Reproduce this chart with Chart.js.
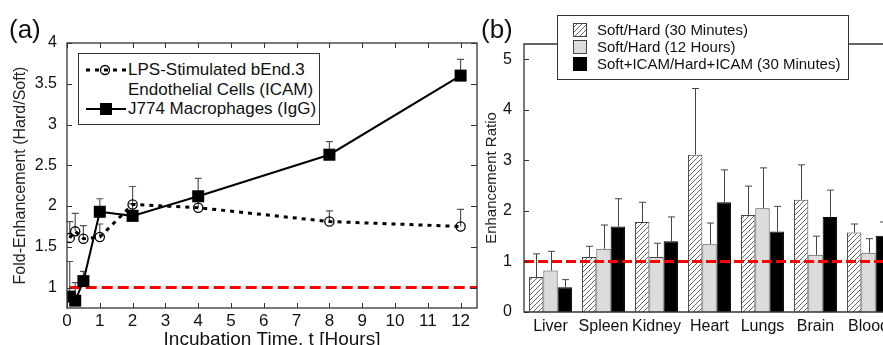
<!DOCTYPE html>
<html><head><meta charset="utf-8">
<script src="https://cdn.jsdelivr.net/npm/chart.js@4"></script>
<style>
html,body{margin:0;padding:0;width:883px;height:345px;overflow:hidden;background:#fff;font-family:"Liberation Sans",Arial,sans-serif;color:#111;}
#wrapA{position:absolute;left:0;top:0;width:490px;height:360px;}
#wrapB{position:absolute;left:470px;top:0;width:430px;height:345px;}
.panel{position:absolute;font-size:26px;line-height:26px;color:#111;}
.box{position:absolute;background:#fff;border:1px solid #333;box-sizing:border-box;}
.lt{position:absolute;white-space:nowrap;line-height:18px;}
.sw{position:absolute;}
</style></head>
<body>
<div id="wrapA"><canvas id="ca" width="490" height="360"></canvas></div>
<div id="wrapB"><canvas id="cb" width="430" height="345"></canvas></div>
<div class="panel" style="left:9px;top:16px;">(a)</div>
<div class="panel" style="left:481px;top:16px;">(b)</div>

<div class="box" style="left:78px;top:53px;width:242px;height:72px;"></div>
<svg class="sw" style="left:84px;top:62px;" width="46" height="16">
  <line x1="2" y1="8" x2="42" y2="8" stroke="#000" stroke-width="3" stroke-dasharray="4,5"/>
  <circle cx="21" cy="8" r="4.5" fill="none" stroke="#000" stroke-width="1.3"/>
</svg>
<svg class="sw" style="left:84px;top:101px;" width="46" height="16">
  <line x1="2" y1="8" x2="42" y2="8" stroke="#000" stroke-width="2"/>
  <rect x="16" y="2" width="12" height="12" fill="#000"/>
</svg>
<div class="lt" style="left:128px;top:61px;font-size:17px;">LPS-Stimulated bEnd.3</div>
<div class="lt" style="left:128px;top:81px;font-size:17px;">Endothelial Cells (ICAM)</div>
<div class="lt" style="left:128px;top:100px;font-size:17px;">J774 Macrophages (IgG)</div>

<div class="box" style="left:557px;top:15px;width:292px;height:65px;"></div>
<svg class="sw" style="left:573px;top:23px;" width="14" height="14">
  <defs><pattern id="hp" width="5" height="5" patternUnits="userSpaceOnUse">
    <rect width="5" height="5" fill="#fff"/>
    <path d="M0,5 L5,0 M-1,1 L1,-1 M4,6 L6,4" stroke="#666" stroke-width="1"/>
  </pattern></defs>
  <rect x="0.5" y="0.5" width="13" height="13" fill="url(#hp)" stroke="#444" stroke-width="1"/>
</svg>
<svg class="sw" style="left:573px;top:40px;" width="14" height="14">
  <rect x="0.5" y="0.5" width="13" height="13" fill="#dcdcdc" stroke="#444" stroke-width="1"/>
</svg>
<svg class="sw" style="left:573px;top:57px;" width="14" height="14">
  <rect x="0" y="0" width="14" height="14" fill="#000"/>
</svg>
<div class="lt" style="left:597px;top:21px;font-size:15px;">Soft/Hard (30 Minutes)</div>
<div class="lt" style="left:597px;top:38px;font-size:15px;">Soft/Hard (12 Hours)</div>
<div class="lt" style="left:597px;top:55px;font-size:15px;">Soft+ICAM/Hard+ICAM (30 Minutes)</div>

<script>
// ---------- Panel (a) data ----------
const timesICAM  = [0.083, 0.25, 0.5, 1, 2, 4, 8, 12];
const icamMean   = [1.61, 1.69, 1.60, 1.62, 2.02, 1.98, 1.81, 1.75];
const icamErrTop = [1.81, 1.91, 1.76, 1.78, 2.24, 2.08, 1.94, 1.96];
const timesJ774  = [0.083, 0.25, 0.5, 1, 2, 4, 8, 12];
const j774Mean   = [0.89, 0.84, 1.08, 1.93, 1.88, 2.12, 2.63, 3.60];
const j774ErrTop = [1.32, 1.06, 1.20, 2.09, 2.03, 2.34, 2.79, 3.80];
const refX = [0.083, 12.5];
const refY = [1, 1];
const xTicksA = [0,1,2,3,4,5,6,7,8,9,10,11,12];
const yTicksA = [1, 1.5, 2, 2.5, 3, 3.5, 4];

// ---------- Panel (b) data ----------
const organs     = ['Liver','Spleen','Kidney','Heart','Lungs','Brain','Blood'];
const soft30     = [0.69, 1.09, 1.78, 3.11, 1.92, 2.22, 1.57];
const soft30Err  = [1.15, 1.30, 2.17, 4.42, 2.49, 2.91, 1.74];
const soft12     = [0.82, 1.25, 1.09, 1.34, 2.05, 1.13, 1.17];
const soft12Err  = [1.20, 1.72, 1.36, 1.76, 2.85, 1.50, 1.45];
const icam30     = [0.49, 1.69, 1.40, 2.17, 1.59, 1.88, 1.51];
const icam30Err  = [0.64, 2.24, 1.88, 2.81, 2.09, 2.41, 1.78];
const yTicksB    = [0, 1, 2, 3, 4, 5];

const FONT = '"Liberation Sans", Arial, sans-serif';
Chart.defaults.font.family = FONT;
Chart.defaults.color = '#111';

// ---------- Panel (a) ----------
const framePluginA = {
  id: 'frameA',
  beforeDatasetsDraw(chart) {
    const ctx = chart.ctx, xs = chart.scales.x, ys = chart.scales.y;
    ctx.save();
    ctx.strokeStyle = '#555'; ctx.lineWidth = 1.2;
    const drawErr = (ts, m, e) => {
      ts.forEach((t, i) => {
        const x = xs.getPixelForValue(t), y0 = ys.getPixelForValue(m[i]), y1 = ys.getPixelForValue(e[i]);
        ctx.beginPath(); ctx.moveTo(x, y0); ctx.lineTo(x, y1);
        ctx.moveTo(x - 3.5, y1); ctx.lineTo(x + 3.5, y1); ctx.stroke();
      });
    };
    drawErr(timesICAM, icamMean, icamErrTop);
    drawErr(timesJ774, j774Mean, j774ErrTop);
    ctx.restore();
  },
  afterDraw(chart) {
    const ctx = chart.ctx, a = chart.chartArea, xs = chart.scales.x, ys = chart.scales.y;
    ctx.save();
    ctx.strokeStyle = '#333'; ctx.lineWidth = 1.3;
    ctx.strokeRect(a.left, a.top, a.right - a.left, a.bottom - a.top);
    ctx.lineWidth = 1;
    xTicksA.forEach(v => {
      const x = Math.round(xs.getPixelForValue(v)) + 0.5;
      ctx.beginPath(); ctx.moveTo(x, a.bottom); ctx.lineTo(x, a.bottom - 5);
      ctx.moveTo(x, a.top); ctx.lineTo(x, a.top + 5); ctx.stroke();
    });
    yTicksA.forEach(v => {
      const y = Math.round(ys.getPixelForValue(v)) + 0.5;
      ctx.beginPath(); ctx.moveTo(a.left, y); ctx.lineTo(a.left + 5, y);
      ctx.moveTo(a.right, y); ctx.lineTo(a.right - 6, y); ctx.stroke();
    });
    ctx.restore();
  }
};

new Chart(document.getElementById('ca'), {
  type: 'line',
  data: {
    datasets: [
      {
        label: 'ref', data: refX.map((x, i) => ({x, y: refY[i]})),
        borderColor: '#ff0000', borderWidth: 3, borderDash: [11, 5], pointRadius: 0, order: 3
      },
      {
        label: 'LPS-Stimulated bEnd.3 Endothelial Cells (ICAM)',
        data: timesICAM.map((x, i) => ({x, y: icamMean[i]})),
        borderColor: '#000', borderWidth: 3, borderDash: [4, 5],
        pointStyle: 'circle', pointRadius: 4.6, pointBorderWidth: 1.3,
        pointBackgroundColor: 'rgba(0,0,0,0)', pointBorderColor: '#000', order: 2
      },
      {
        label: 'J774 Macrophages (IgG)',
        data: timesJ774.map((x, i) => ({x, y: j774Mean[i]})),
        borderColor: '#000', borderWidth: 2,
        pointStyle: 'rect', pointRadius: 8.5, pointBorderWidth: 0,
        pointBackgroundColor: '#000', order: 1
      }
    ]
  },
  options: {
    responsive: false, animation: false, devicePixelRatio: 1,
    layout: { padding: { left: 0, right: 13, top: 43, bottom: 0 } },
    plugins: { legend: { display: false }, tooltip: { enabled: false } },
    scales: {
      x: {
        type: 'linear', min: 0, max: 12.5,
        grid: { display: false, drawTicks: false }, border: { display: false },
        afterBuildTicks: s => { s.ticks = xTicksA.map(v => ({ value: v })); },
        afterFit: s => { s.height = 52; },
        ticks: { font: { size: 17 }, color: '#111', padding: 3, maxRotation: 0, autoSkip: false,
                 callback: v => String(v) },
        title: { display: true, text: 'Incubation Time, t [Hours]', font: { size: 19 }, color: '#111',
                 padding: { top: 0, bottom: 9 } }
      },
      y: {
        type: 'linear', min: 0.75, max: 4,
        grid: { display: false, drawTicks: false }, border: { display: false },
        afterBuildTicks: s => { s.ticks = yTicksA.map(v => ({ value: v })); },
        afterFit: s => { s.width = 67; },
        ticks: { font: { size: 16 }, color: '#111', padding: 10, callback: v => String(v) },
        title: { display: true, text: 'Fold-Enhancement (Hard/Soft)', font: { size: 16 }, color: '#222',
                 padding: { top: 11, bottom: 0 } }
      }
    }
  },
  plugins: [framePluginA]
});

// ---------- Panel (b) ----------
function hatch() {
  const c = document.createElement('canvas'); c.width = 5; c.height = 5;
  const g = c.getContext('2d');
  g.fillStyle = '#fff'; g.fillRect(0, 0, 5, 5);
  g.strokeStyle = '#666'; g.lineWidth = 1;
  g.beginPath(); g.moveTo(0, 5); g.lineTo(5, 0);
  g.moveTo(-1, 1); g.lineTo(1, -1); g.moveTo(4, 6); g.lineTo(6, 4); g.stroke();
  return g.createPattern(c, 'repeat');
}

const errSets = [soft30Err, soft12Err, icam30Err];
const framePluginB = {
  id: 'frameB',
  afterDatasetsDraw(chart) {
    const ctx = chart.ctx, a = chart.chartArea, ys = chart.scales.y;
    ctx.save();
    ctx.strokeStyle = '#444'; ctx.lineWidth = 1;
    errSets.forEach((errs, di) => {
      chart.getDatasetMeta(di).data.forEach((bar, j) => {
        const x = Math.round(bar.x) + 0.5, y1 = ys.getPixelForValue(errs[j]);
        ctx.beginPath(); ctx.moveTo(x, bar.y); ctx.lineTo(x, y1);
        ctx.moveTo(x - 3.5, y1); ctx.lineTo(x + 3.5, y1); ctx.stroke();
      });
    });
    const yr = ys.getPixelForValue(1);
    ctx.strokeStyle = '#ff0000'; ctx.lineWidth = 3; ctx.setLineDash([10, 4]);
    ctx.beginPath(); ctx.moveTo(a.left, yr); ctx.lineTo(a.right, yr); ctx.stroke();
    ctx.setLineDash([]);
    ctx.strokeStyle = '#333'; ctx.lineWidth = 1.3;
    ctx.beginPath();
    ctx.moveTo(a.right, a.top); ctx.lineTo(a.left, a.top); ctx.lineTo(a.left, a.bottom); ctx.lineTo(a.right, a.bottom);
    ctx.stroke();
    ctx.lineWidth = 1;
    yTicksB.forEach(v => {
      const y = Math.round(ys.getPixelForValue(v)) + 0.5;
      ctx.beginPath(); ctx.moveTo(a.left, y); ctx.lineTo(a.left + 5, y); ctx.stroke();
    });
    ctx.restore();
  }
};

new Chart(document.getElementById('cb'), {
  type: 'bar',
  data: {
    labels: organs,
    datasets: [
      { label: 'Soft/Hard (30 Minutes)', data: soft30, backgroundColor: hatch(), borderColor: '#444', borderWidth: 1 },
      { label: 'Soft/Hard (12 Hours)', data: soft12, backgroundColor: '#dcdcdc', borderColor: '#444', borderWidth: 1 },
      { label: 'Soft+ICAM/Hard+ICAM (30 Minutes)', data: icam30, backgroundColor: '#000', borderColor: '#000', borderWidth: 1 }
    ]
  },
  options: {
    responsive: false, animation: false, devicePixelRatio: 1,
    layout: { padding: { left: 0, right: 5, top: 44, bottom: 0 } },
    plugins: { legend: { display: false }, tooltip: { enabled: false } },
    datasets: { bar: { categoryPercentage: 0.81, barPercentage: 1.0 } },
    scales: {
      x: {
        grid: { display: false, drawTicks: false }, border: { display: false },
        afterFit: s => { s.height = 33; },
        ticks: { font: { size: 16 }, color: '#111', padding: 5, maxRotation: 0, autoSkip: false }
      },
      y: {
        min: 0, max: 5.3,
        grid: { display: false, drawTicks: false }, border: { display: false },
        afterBuildTicks: s => { s.ticks = yTicksB.map(v => ({ value: v })); },
        afterFit: s => { s.width = 54; },
        ticks: { font: { size: 16 }, color: '#111', padding: 12, callback: v => String(v) },
        title: { display: true, text: 'Enhancement Ratio', font: { size: 15 }, color: '#222',
                 padding: { top: 13, bottom: 0 } }
      }
    }
  },
  plugins: [framePluginB]
});
</script>
</body></html>
